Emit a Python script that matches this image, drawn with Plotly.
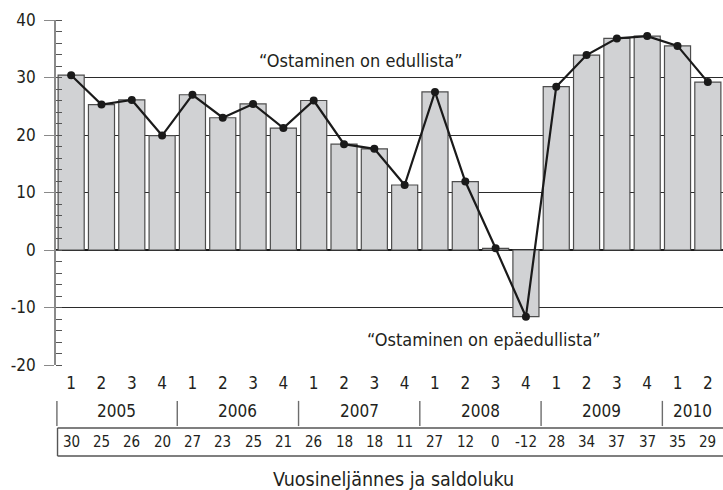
import plotly.graph_objects as go

quarters = ["1", "2", "3", "4"] * 5 + ["1", "2"]
years = ["2005", "2006", "2007", "2008", "2009", "2010"]
year_centers = [1.5, 5.5, 9.5, 13.5, 17.5, 20.5]
year_separators = [-0.47, 3.5, 7.5, 11.5, 15.5, 19.5]
y_ticks = [-20, -10, 0, 10, 20, 30, 40]
y_tick_labels = ["-20", "-10", "0", "10", "20", "30", "40"]
bar_values = [30.4, 25.3, 26.1, 19.9, 27.0, 23.0, 25.4, 21.2, 26.0, 18.4, 17.6, 11.3,
              27.5, 11.9, 0.3, -11.6, 28.4, 33.9, 36.8, 37.2, 35.5, 29.2]
table_labels = ["30", "25", "26", "20", "27", "23", "25", "21", "26", "18", "18", "11",
                "27", "12", "0", "-12", "28", "34", "37", "37", "35", "29"]

FONT = "Liberation Sans Narrow, DejaVu Sans Condensed, Arial Narrow, sans-serif"
TXT = "#231f20"
x = list(range(len(bar_values)))

fig = go.Figure()
fig.add_trace(go.Bar(
    x=x, y=bar_values, width=0.86,
    marker=dict(color="#d1d2d4", line=dict(color="#4d4d4d", width=1.2)),
    hoverinfo="skip", showlegend=False,
))
fig.add_trace(go.Scatter(
    x=x, y=bar_values, mode="lines+markers",
    line=dict(color="#1a1a1a", width=2.2),
    marker=dict(color="#1a1a1a", size=8),
    showlegend=False,
))

fig.update_layout(
    width=723, height=490,
    margin=dict(l=56, r=0, t=20, b=125, autoexpand=False),
    paper_bgcolor="white", plot_bgcolor="white",
    font=dict(family=FONT, color=TXT, size=15),
    bargap=0.14,
)
fig.update_xaxes(
    range=[-0.5, 21.5], tickmode="array", tickvals=x, ticktext=quarters,
    showgrid=False, zeroline=False, showline=False, ticks="",
    tickfont=dict(size=17, family=FONT, color=TXT), ticklabelstandoff=6,
    automargin=False,
)
fig.update_yaxes(
    range=[-20, 40], tickmode="array", tickvals=y_ticks, ticktext=y_tick_labels,
    showgrid=True, gridcolor="#2b2b2b", gridwidth=1.2,
    zeroline=True, zerolinecolor="#1a1a1a", zerolinewidth=1.5,
    showline=True, linecolor="#8a8a8a", linewidth=1.6,
    ticks="outside", ticklen=10, tickcolor="#8a8a8a", tickwidth=1.4,
    tickfont=dict(size=17, family=FONT, color=TXT), ticklabelstandoff=5,
    minor=dict(ticks="inside", tickmode="linear", tick0=-20, dtick=2, ticklen=6,
               tickcolor="#555", tickwidth=1.2, showgrid=False),
    automargin=False,
)

# year separators
for sx in year_separators:
    fig.add_shape(type="line", xref="x", yref="paper", x0=sx, x1=sx,
                  y0=-0.104, y1=-0.177, line=dict(color="#6d6d6d", width=1.4))
# value table box (open on the right, running off the page)
box_line = dict(color="#555", width=1.4)
fig.add_shape(type="line", xref="x", yref="paper", x0=-0.45, x1=22.5,
              y0=-0.1826, y1=-0.1826, line=box_line)
fig.add_shape(type="line", xref="x", yref="paper", x0=-0.45, x1=22.5,
              y0=-0.2638, y1=-0.2638, line=box_line)
fig.add_shape(type="line", xref="x", yref="paper", x0=-0.45, x1=-0.45,
              y0=-0.1826, y1=-0.2638, line=box_line)

for yc, yl in zip(year_centers, years):
    fig.add_annotation(x=yc, y=-0.133, xref="x", yref="paper", text=yl,
                       xanchor="center", yanchor="middle",
                       showarrow=False, font=dict(size=17, family=FONT, color=TXT))
for xi, tl in zip(x, table_labels):
    fig.add_annotation(x=xi, y=-0.223, xref="x", yref="paper", text=tl,
                       xanchor="center", yanchor="middle",
                       showarrow=False, font=dict(size=15, family=FONT, color=TXT))

fig.add_annotation(x=9.55, y=33.0, xref="x", yref="y", text="\u201cOstaminen on edullista\u201d",
                   xanchor="center", yanchor="middle",
                   showarrow=False, font=dict(size=18, family=FONT, color=TXT))
fig.add_annotation(x=13.63, y=-15.5, xref="x", yref="y", text="\u201cOstaminen on ep\u00e4edullista\u201d",
                   xanchor="center", yanchor="middle",
                   showarrow=False, font=dict(size=18, family=FONT, color=TXT))
fig.add_annotation(x=0.506, y=-0.331, xref="paper", yref="paper", text="Vuosinelj\u00e4nnes ja saldoluku",
                   xanchor="center", yanchor="middle",
                   showarrow=False, font=dict(size=19.5, family=FONT, color=TXT))

fig.write_html("out.html", config={"displayModeBar": False},
               post_script="document.body.style.margin='0';document.documentElement.style.overflow='hidden';")
